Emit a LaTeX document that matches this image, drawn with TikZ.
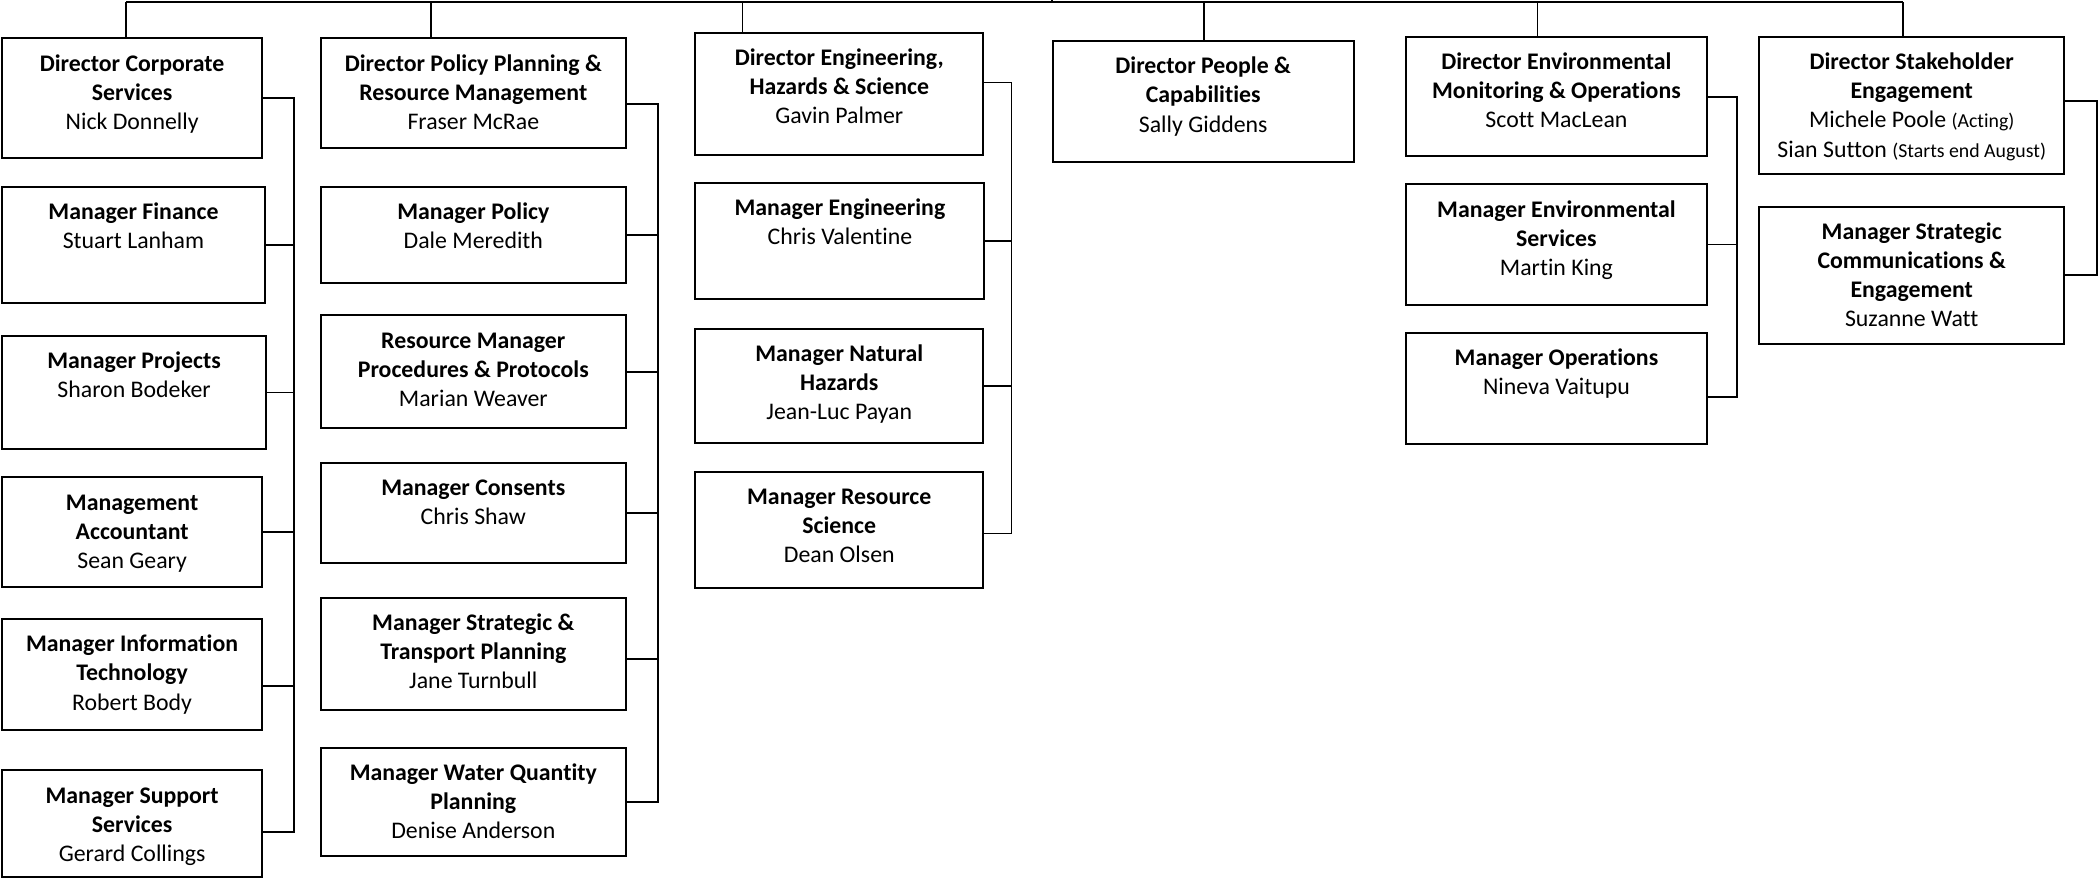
\documentclass[tikz,border=0pt]{standalone}
\usepackage{fontspec}
\setmainfont{Carlito}[Ligatures=NoCommon]
\tikzset{
  orgbox/.style={draw=black, line width=1.5pt, inner sep=0pt, anchor=north west,
    font=\fontsize{17.8}{21.7}\selectfont},
  conn/.style={draw=black, line width=1.3pt}
}
\newcommand\orgnode[6]{\node[orgbox] (#1) at (#2,#3) {\begin{minipage}[t][\dimexpr#5pt-#3pt\relax][t]{\dimexpr#4pt-#2pt\relax}\centering\rule{0pt}{24.5pt}#6\end{minipage}};}
\newcommand\smallnote[1]{{\fontsize{14.8}{17}\selectfont #1}}
\begin{document}
\begin{tikzpicture}[x=1pt,y=-1pt]
\useasboundingbox (0,0) rectangle (1568,657);
% column 1
\orgnode{d1}{1}{28}{195}{117}{{\bfseries Director Corporate\\Services}\\Nick Donnelly}
\orgnode{fin}{1}{139}{197}{226}{{\bfseries Manager Finance}\\Stuart Lanham}
\orgnode{proj}{1}{250}{198}{335}{{\bfseries Manager Projects}\\Sharon Bodeker}
\orgnode{acc}{1}{356}{195}{438}{{\bfseries Management\\Accountant}\\Sean Geary}
\orgnode{it}{1}{462}{195}{545}{{\bfseries Manager Information\\Technology}\\Robert Body}
\orgnode{sup}{1}{575}{195}{655}{{\bfseries Manager Support\\Services}\\Gerard Collings}
% column 2
\orgnode{d2}{239}{28}{467}{110}{{\bfseries Director Policy Planning \&\\Resource Management}\\Fraser McRae}
\orgnode{pol}{239}{139}{467}{211}{{\bfseries Manager Policy}\\Dale Meredith}
\orgnode{rm}{239}{235}{467}{319}{{\bfseries Resource Manager\\Procedures \& Protocols}\\Marian Weaver}
\orgnode{con}{239}{345}{467}{420}{{\bfseries Manager Consents}\\Chris Shaw}
\orgnode{str}{239}{446}{467}{530}{{\bfseries Manager Strategic \&\\Transport Planning}\\Jane Turnbull}
\orgnode{wat}{239}{558}{467}{639}{{\bfseries Manager Water Quantity\\Planning}\\Denise Anderson}
% column 3
\orgnode{d3}{519}{24}{734}{115}{{\bfseries Director Engineering,\\Hazards \& Science}\\Gavin Palmer}
\orgnode{eng}{519}{136}{735}{223}{{\bfseries Manager Engineering}\\Chris Valentine}
\orgnode{nh}{519}{245}{734}{330}{{\bfseries Manager Natural\\Hazards}\\Jean-Luc Payan}
\orgnode{rs}{519}{352}{734}{439}{{\bfseries Manager Resource\\Science}\\Dean Olsen}
% column 4
\orgnode{d4}{786}{30}{1011}{120}{{\bfseries Director People \&\\Capabilities}\\Sally Giddens}
% column 5
\orgnode{d5}{1050}{27}{1275}{116}{{\bfseries Director Environmental\\Monitoring \& Operations}\\Scott MacLean}
\orgnode{es}{1050}{137}{1275}{227}{{\bfseries Manager Environmental\\Services}\\Martin King}
\orgnode{op}{1050}{248}{1275}{331}{{\bfseries Manager Operations}\\Nineva Vaitupu}
% column 6
\orgnode{d6}{1314}{27}{1542}{129}{{\bfseries Director Stakeholder\\Engagement}\\Michele Poole \smallnote{(Acting)}\\Sian Sutton \smallnote{(Starts end August)}}
\orgnode{sc}{1314}{154}{1542}{256}{{\bfseries Manager Strategic\\Communications \&\\Engagement}\\Suzanne Watt}

% top bus
\coordinate (tl) at (94,1.7);
\coordinate (tr) at (1422,1.7);
\coordinate (ceo) at (786,0);
\coordinate (t1) at (94,1.7);
\coordinate (t2) at (322,1.7);
\coordinate (t3) at (555,1.7);
\coordinate (t4) at (900,1.7);
\coordinate (t5) at (1149,1.7);
\coordinate (t6) at (1422,1.7);
\draw[conn] (tl) -- (tr);
\draw[conn] (ceo) -- (ceo |- tl);
\draw[conn] (t1) -- (t1 |- d1.north);
\draw[conn] (t2) -- (t2 |- d2.north);
\draw[conn] (t3) -- (t3 |- d3.north);
\draw[conn] (t4) -- (t4 |- d4.north);
\draw[conn] (t5) -- (t5 |- d5.north);
\draw[conn] (t6) -- (t6 |- d6.north);

% column buses
\coordinate (b1) at (220,0);
\coordinate (b2) at (492,0);
\coordinate (b3) at (756,0);
\coordinate (b5) at (1298,0);
\coordinate (b6) at (1567,0);
% shifted attachment points
\coordinate (supE) at ([yshift=-6pt]sup.east);
\coordinate (itE) at ([yshift=-8.5pt]it.east);
\coordinate (d2E) at ([yshift=-8pt]d2.east);
\coordinate (strE) at ([yshift=-4pt]str.east);
\coordinate (d3E) at ([yshift=8.5pt]d3.east);
\coordinate (rsE) at ([yshift=-2.5pt]rs.east);
\coordinate (opE) at ([yshift=-6.5pt]op.east);
\coordinate (d6E) at ([yshift=3pt]d6.east);

\draw[conn] (d1.east) -- (d1.east -| b1) -- (b1 |- supE) -- (supE);
\draw[conn] (fin.east) -- (fin.east -| b1);
\draw[conn] (proj.east) -- (proj.east -| b1);
\draw[conn] (acc.east) -- (acc.east -| b1);
\draw[conn] (itE) -- (itE -| b1);

\draw[conn] (d2E) -- (d2E -| b2) -- (b2 |- wat.east) -- (wat.east);
\draw[conn] (pol.east) -- (pol.east -| b2);
\draw[conn] (rm.east) -- (rm.east -| b2);
\draw[conn] (con.east) -- (con.east -| b2);
\draw[conn] (strE) -- (strE -| b2);

\draw[conn] (d3E) -- (d3E -| b3) -- (b3 |- rsE) -- (rsE);
\draw[conn] (eng.east) -- (eng.east -| b3);
\draw[conn] (nh.east) -- (nh.east -| b3);

\draw[conn] (d5.east) -- (d5.east -| b5) -- (b5 |- opE) -- (opE);
\draw[conn] (es.east) -- (es.east -| b5);

\draw[conn] (d6E) -- (d6E -| b6) -- (b6 |- sc.east) -- (sc.east);
\end{tikzpicture}
\end{document}
